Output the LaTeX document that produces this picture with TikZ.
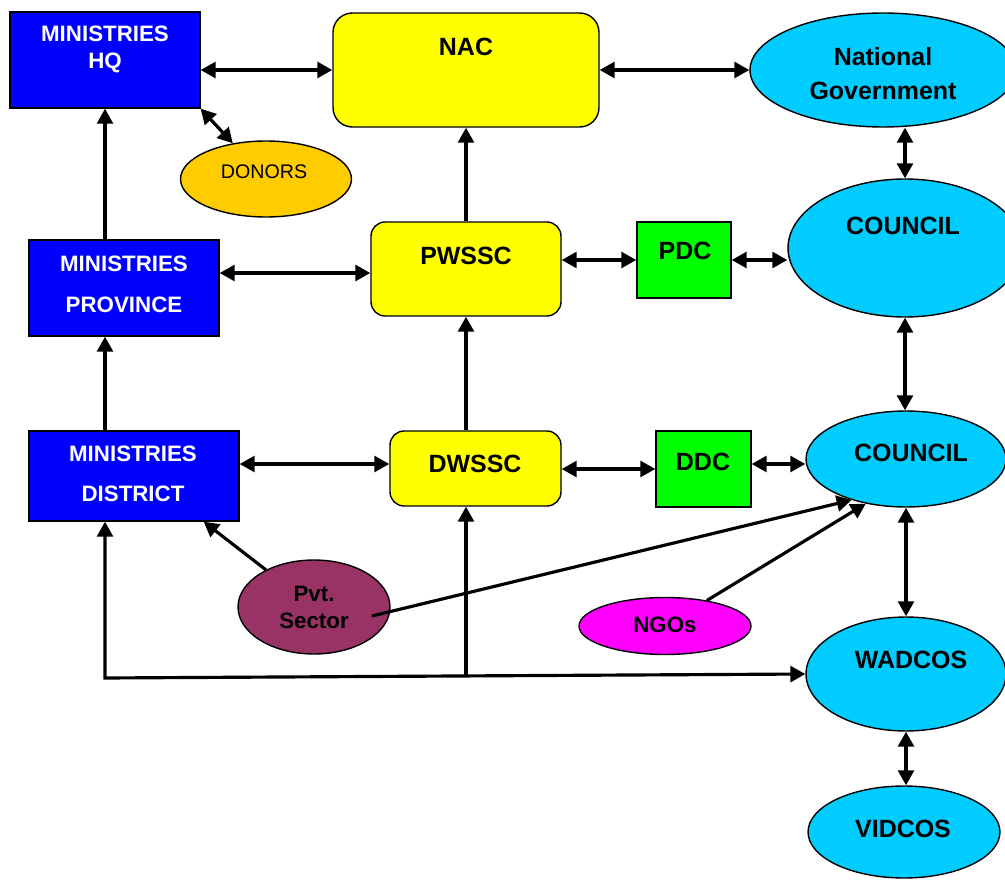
\documentclass[tikz,border=0pt]{standalone}
\usepackage{fontspec}
\setmainfont{Liberation Sans}
\usetikzlibrary{shapes.geometric,arrows.meta}

\definecolor{minblue}{RGB}{0,0,255}
\definecolor{comyellow}{RGB}{255,255,0}
\definecolor{govcyan}{RGB}{0,204,255}
\definecolor{devgreen}{RGB}{0,255,0}
\definecolor{donorange}{RGB}{255,204,0}
\definecolor{pvtplum}{RGB}{153,51,102}
\definecolor{ngomagenta}{RGB}{255,0,255}

\tikzset{
  box/.style={draw=black, line width=0.8pt, inner sep=0pt},
  minbox/.style={box, fill=minblue},
  combox/.style={box, fill=comyellow},
  devbox/.style={box, fill=devgreen},
  govoval/.style={box, ellipse, fill=govcyan},
  txt/.style={font=\bfseries\fontsize{12.7}{15.4}\selectfont, align=center, inner sep=0pt},
  bigtxt/.style={txt, font=\bfseries\fontsize{14.2}{17}\selectfont},
  link/.style={line width=1.8pt, -{Triangle[length=8.5pt,width=9pt]}},
  both/.style={line width=1.8pt, {Triangle[length=8.5pt,width=9pt]}-{Triangle[length=8.5pt,width=9pt]}},
}

\begin{document}
\begin{tikzpicture}[x=0.02cm, y=-0.02cm]
\useasboundingbox (0,0) rectangle (1005,882);
% shapes
\node[minbox, minimum width=3.8cm, minimum height=1.92cm] (hq) at (105,60) {};
\node[combox, rounded corners=11pt, minimum width=5.32cm, minimum height=2.28cm] (nac) at (466,70) {};
\node[govoval, minimum width=5.32cm, minimum height=2.28cm] (ng) at (883,70) {};
\node[box, ellipse, fill=donorange, minimum width=3.42cm, minimum height=1.52cm] (don) at (266,179) {};
\node[minbox, minimum width=3.8cm, minimum height=1.92cm] (prov) at (124,288) {};
\node[combox, rounded corners=8pt, minimum width=3.8cm, minimum height=1.88cm] (pw) at (466,269) {};
\node[devbox, minimum width=1.88cm, minimum height=1.52cm] (pdc) at (684,260) {};
\node[govoval, minimum width=4.68cm, minimum height=2.76cm] (cou) at (905,248) {};
\node[minbox, minimum width=4.2cm, minimum height=1.8cm] (dist) at (134,476) {};
\node[combox, rounded corners=8pt, minimum width=3.42cm, minimum height=1.5cm] (dws) at (475.5,468.5) {};
\node[devbox, minimum width=1.9cm, minimum height=1.52cm] (ddc) at (703.5,469) {};
\node[govoval, minimum width=4.0cm, minimum height=1.92cm] (cou2) at (906,459) {};
\node[box, ellipse, fill=pvtplum, minimum width=3.04cm, minimum height=1.88cm] (pvt) at (314,607) {};
\node[box, ellipse, fill=ngomagenta, minimum width=3.44cm, minimum height=1.14cm] (ngo) at (665,626) {};
\node[govoval, minimum width=4.0cm, minimum height=2.28cm] (wad) at (906,674) {};
\node[govoval, minimum width=3.84cm, minimum height=1.84cm] (vid) at (904,832) {};
% texts
\node[txt, text=white] (hq-t) at (105,49) {MINISTRIES\\HQ};
\node[bigtxt] (nac-t) at (466,47) {NAC};
\node[bigtxt] (ng-t) at (883,73.5) {National\\[2.4pt]Government};
\node[txt, font=\fontsize{11.2}{13}\selectfont] (don-t) at (264,172) {DONORS};
\node[txt, text=white] (prov-t) at (124,284.5) {MINISTRIES\\[7.9pt]PROVINCE};
\node[bigtxt] (pw-t) at (466,256) {PWSSC};
\node[bigtxt] (pdc-t) at (685,251) {PDC};
\node[bigtxt] (cou-t) at (903,226) {COUNCIL};
\node[txt, text=white] (dist-t) at (133,474) {MINISTRIES\\[7.4pt]DISTRICT};
\node[bigtxt] (dws-t) at (475,464) {DWSSC};
\node[bigtxt] (ddc-t) at (703,462) {DDC};
\node[bigtxt] (cou2-t) at (911,453) {COUNCIL};
\node[txt] (pvt-t) at (314,607) {Pvt.\\Sector};
\node[txt] (ngo-t) at (665,625) {NGOs};
\node[bigtxt] (wad-t) at (911,660) {WADCOS};
\node[bigtxt] (vid-t) at (903,829) {VIDCOS};
% top row
\draw[both] ([yshift=-0.2cm]hq.east) -- ([yshift=-0.2cm]hq.east -| nac.west);
\draw[both] (nac.east) -- (ng.west);
\draw[both] (hq.south east) -- (don);
% province row
\draw[both] ([yshift=0.3cm]prov.east) -- ([yshift=0.3cm]prov.east -| pw.west);
\draw[both] (pdc.west -| pw.east) -- (pdc.west);
\draw[both] (pdc.east) -- (pdc.east -| cou.west);
% district row
\draw[both] ([yshift=0.24cm]dist.east) -- ([yshift=0.24cm]dist.east -| dws.west);
\draw[both] (ddc.west -| dws.east) -- (ddc.west);
\draw[both] ([yshift=0.1cm]ddc.east) -- ([yshift=0.1cm]ddc.east -| cou2.west);
% upward links
\draw[link] (hq.south |- prov.north) -- (hq.south);
\draw[link] (hq.south |- dist.north) -- (hq.south |- prov.south);
\draw[link] (pw.north) -- (nac.south);
\draw[link] (pw.south |- dws.north) -- (pw.south);
% right column
\draw[both] (cou.north |- ng.south) -- (cou.north);
\draw[both] (cou.south) -- (cou.south |- cou2.north);
\draw[both] (cou2.south) -- (cou2.south |- wad.north);
\draw[both] (wad.south) -- (wad.south |- vid.north);
% bottom lines
\coordinate (jl) at (105,678);
\coordinate (jm) at (466,676);
\draw[both] (jl |- dist.south) -- (jl) -- (wad.west);
\draw[link] (jm) -- (jm |- dws.south);
% pvt sector and ngos
\draw[link] (pvt) -- ([xshift=-0.72cm]dist.south east);
\draw[link] ([xshift=1.16cm,yshift=-0.18cm]pvt.center) -- (cou2.217);
\draw[link] (ngo) -- (cou2.228);
\end{tikzpicture}
\end{document}
